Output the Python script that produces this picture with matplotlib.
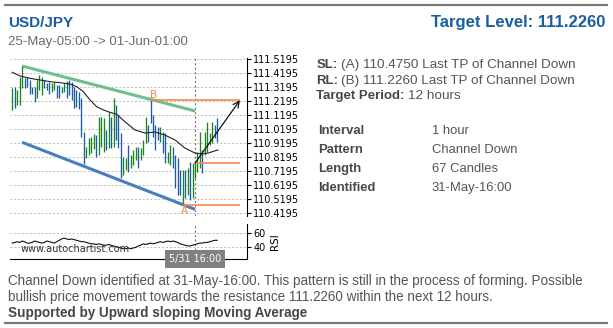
import matplotlib
matplotlib.use("Agg")
import matplotlib.pyplot as plt
from matplotlib.lines import Line2D

# hourly bars, 25-May-05:00 -> 01-Jun-01:00 (index 0..83)
highs = [111.311, 111.323, 111.299, 111.395, 111.471, 111.383, 111.395, 111.371, 111.323, 111.323,
         111.371, 111.407, 111.395, 111.371, 111.347, 111.359, 111.347, 111.359, 111.335, 111.335,
         111.323, 111.347, 111.363, 111.371, 111.359, 111.323, 111.299, 111.287, 111.240, 110.996,
         110.893, 110.953, 110.964, 110.981, 110.976, 111.108, 111.108, 111.096, 111.012, 111.144,
         111.108, 111.240, 111.192, 111.120, 110.989, 110.821, 110.809, 110.905, 110.833, 110.869,
         110.893, 110.893, 110.881, 110.940, 111.108, 111.048, 111.226, 111.120, 111.048, 111.036,
         111.036, 110.999, 110.988, 110.857, 110.905, 110.893, 110.833, 110.809, 110.725, 110.725,
         110.725, 110.737, 110.785, 110.775, 110.775, 110.857, 110.999, 110.869, 110.999, 111.072,
         110.988, 111.072, 111.048, 111.096]
lows = [111.156, 111.168, 111.192, 111.192, 111.311, 111.311, 111.323, 111.268, 111.268, 111.215,
        111.244, 111.299, 111.263, 111.311, 111.299, 111.268, 111.287, 111.299, 111.240, 111.240,
        111.275, 111.287, 111.240, 111.263, 111.227, 111.168, 111.180, 111.163, 110.964, 110.766,
        110.809, 110.833, 110.845, 110.876, 110.821, 110.833, 110.893, 110.857, 110.869, 110.881,
        110.881, 110.893, 110.940, 110.881, 110.666, 110.689, 110.725, 110.713, 110.737, 110.761,
        110.797, 110.737, 110.797, 110.833, 110.917, 110.928, 111.060, 110.964, 110.869, 110.940,
        110.928, 110.845, 110.773, 110.773, 110.761, 110.737, 110.594, 110.546, 110.546, 110.475,
        110.522, 110.546, 110.510, 110.525, 110.666, 110.713, 110.737, 110.702, 110.833, 110.857,
        110.905, 110.917, 110.952, 110.928]
# 1 = up bar (green), 0 = down bar (blue)
up = [1, 0, 1, 1, 1, 0, 0, 0, 0, 0,
      1, 1, 1, 0, 0, 0, 1, 1, 0, 0,
      1, 1, 0, 0, 0, 0, 0, 0, 0, 0,
      1, 1, 1, 1, 0, 1, 1, 1, 0, 1,
      0, 1, 0, 0, 0, 1, 1, 0, 1, 1,
      1, 0, 1, 1, 1, 0, 0, 0, 0, 0,
      1, 0, 0, 1, 1, 0, 0, 0, 0, 1,
      0, 1, 0, 1, 1, 1, 1, 0, 1, 1,
      1, 1, 0, 0]

# moving average
ma_idx = [0, 3.1, 7.2, 11.2, 15.3, 19.3, 23.4, 26.1, 28.8, 31.5, 34.2, 36.9, 39.6, 42.3,
          45.6, 49.7, 53.7, 57.8, 61.8, 65.9, 69.9, 74, 76.7, 79.3, 83.3]
ma_val = [111.426, 111.400, 111.383, 111.371, 111.359, 111.352, 111.342, 111.323, 111.287,
          111.227, 111.179, 111.156, 111.139, 111.125, 111.072, 111.012, 110.991, 110.998,
          110.976, 110.941, 110.883, 110.847, 110.840, 110.847, 110.869]

rsi = [46, 47, 48, 47, 49, 48, 46, 46, 47, 49,
       48, 47, 46, 47, 49, 48, 47, 46, 48, 50,
       52, 53, 52, 51, 52, 51, 50, 49, 48, 48,
       47, 46, 45, 45, 44, 45, 44, 43, 43, 44,
       43, 42, 41, 40, 39, 38, 38, 39, 38, 39,
       40, 42, 43, 45, 44, 45, 46, 45, 46, 47,
       48, 47, 48, 49, 48, 49, 48, 47, 45, 44,
       43, 42, 42, 43, 44, 45, 46, 46, 47, 47,
       48, 49, 50, 50]

price_ticks = [110.4195, 110.5195, 110.6195, 110.7195, 110.8195, 110.9195,
               111.0195, 111.1195, 111.2195, 111.3195, 111.4195, 111.5195]
rsi_ticks = [40, 60]

# pattern
res_x, res_y = [4, 74], [111.471, 111.149]
sup_x, sup_y = [4, 74], [110.924, 110.443]
a_idx, a_price = 69, 110.4750
b_idx, b_price = 56, 111.2260
ident_idx = 74
last_price = 110.775
target_end = 92.2

W, H = 613, 328
def fx(x):
    return x / W
def fy(y):
    return 1 - y / H

fig = plt.figure(figsize=(W / 100, H / 100), dpi=100)

ax = fig.add_axes([fx(10), fy(216), 237 / W, (216 - 57.5) / H])
ax2 = fig.add_axes([fx(10), fy(259.3), 237 / W, (259.3 - 223.5) / H])

xs = list(range(len(highs)))
cols = ['#1a861a' if u else '#1c5ca6' for u in up]
ax.vlines(xs, lows, highs, colors=cols, lw=0.95, zorder=3)
ax.plot(ma_idx, ma_val, color='#222222', lw=0.8, zorder=4)

ax.plot(res_x, res_y, color='#6dbf8e', lw=2.2, solid_capstyle='butt', zorder=2)
ax.plot(sup_x, sup_y, color='#4a7dc0', lw=2.2, solid_capstyle='butt', zorder=2)

orange = '#f7894c'
ax.hlines([b_price, a_price, last_price], [b_idx, a_idx, ident_idx], target_end,
          color=orange, lw=1.2, zorder=4)
ax.annotate('', xy=(target_end, b_price), xytext=(ident_idx, last_price),
            arrowprops=dict(arrowstyle='->', color='#111111', lw=0.9,
                            mutation_scale=11, shrinkA=0, shrinkB=0), zorder=5)
ax.text(b_idx + 1.4, 111.263, 'B', color=orange, fontsize=7.5, ha='center', va='center')
ax.text(a_idx + 0.9, 110.43, 'A', color=orange, fontsize=7.5, ha='center', va='center')

for a in (ax, ax2):
    a.axvline(ident_idx, color='#777777', ls=(0, (2, 2)), lw=0.8, zorder=1)
    a.set_xlim(-0.93, 95.06)
    a.set_xticks([])
    a.yaxis.tick_right()
    a.tick_params(axis='y', labelsize=7, length=3, width=0.8, pad=1.5, colors='black')
    a.yaxis.grid(True, ls=(0, (2, 2)), color='#bbbbbb', lw=0.7)
    a.set_axisbelow(True)
    a.patch.set_alpha(0)
    for s in ('left', 'top', 'bottom'):
        a.spines[s].set_visible(False)
    a.spines['right'].set_linewidth(0.8)

ax.set_ylim(110.3954, 111.5324)
ax.set_yticks(price_ticks)
ax.set_yticklabels(['%.4f' % t for t in price_ticks])

ax2.plot(xs, rsi, color='#111111', lw=0.8)
ax2.set_ylim(22.9, 74)
ax2.set_yticks(rsi_ticks)
ax2.spines['bottom'].set_visible(True)
ax2.spines['bottom'].set_linewidth(0.8)
ax2.yaxis.set_label_position('right')
ax2.set_ylabel('RSI', fontsize=7.5, labelpad=3)
ax2.text(10.7 / 237, 0.3, 'www.autochartist.com', transform=ax2.transAxes,
         fontsize=7, color='#333333', va='center', ha='left')

fig.text(fx(195), fy(259), '5/31 16:00', color='white', fontsize=6.9, ha='center', va='center',
         bbox=dict(boxstyle='square,pad=0.4', fc='#808080', ec='none'))

# header / info text
sans = 'Liberation Sans'
blue = '#1b5e9f'
fig.text(fx(8), fy(26.7), 'USD/JPY', family=sans, weight='bold', fontsize=11, color=blue)
fig.text(fx(605), fy(26.7), 'Target Level: 111.2260', family=sans, weight='bold',
         fontsize=12, color=blue, ha='right')
fig.text(fx(8), fy(45), '25-May-05:00 -> 01-Jun-01:00', family=sans, fontsize=9.5, color='#6a6a6a')

dark, grey = '#474747', '#555555'
info = [('SL:', '(A) 110.4750 Last TP of Channel Down', 341, 68.3),
        ('RL:', '(B) 111.2260 Last TP of Channel Down', 341, 84),
        ('Target Period:', '12 hours', 408, 99.3)]
for lab, val, vx, by in info:
    fig.text(fx(316.5), fy(by), lab, family=sans, weight='bold', fontsize=9.5, color=dark)
    fig.text(fx(vx), fy(by), val, family=sans, fontsize=9.7, color=grey)

table = [('Interval', '1 hour', 134.3), ('Pattern', 'Channel Down', 153.3),
         ('Length', '67 Candles', 172), ('Identified', '31-May-16:00', 190.7)]
for lab, val, by in table:
    fig.text(fx(318.3), fy(by), lab, family=sans, weight='bold', fontsize=9.4, color=dark)
    fig.text(fx(431.7), fy(by), val, family=sans, fontsize=9.4, color=grey)

fig.text(fx(8), fy(285.5), 'Channel Down identified at 31-May-16:00. This pattern is still in the '
         'process of forming. Possible', family=sans, fontsize=9.75, color=grey)
fig.text(fx(8), fy(301), 'bullish price movement towards the resistance 111.2260 within the next 12 hours.',
         family=sans, fontsize=9.75, color=grey)
fig.text(fx(8), fy(316.5), 'Supported by Upward sloping Moving Average', family=sans,
         weight='bold', fontsize=9.75, color=dark)

for yy in (5, 323):
    fig.add_artist(Line2D([fx(5), fx(607)], [fy(yy), fy(yy)], color='#777777', lw=1.6))

fig.savefig('out.png', dpi=100)
